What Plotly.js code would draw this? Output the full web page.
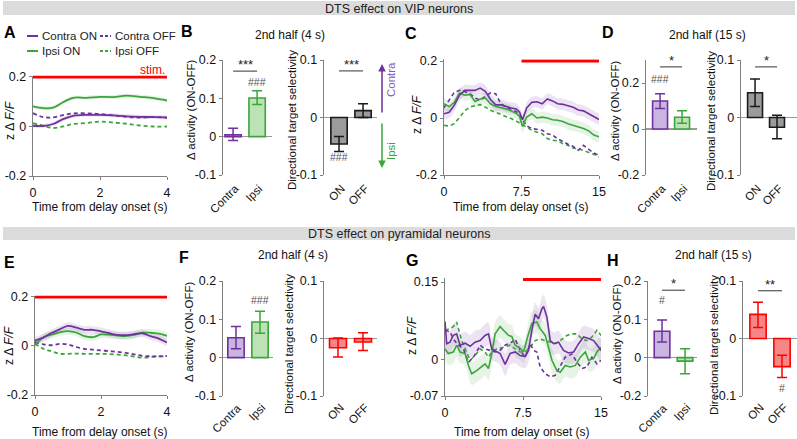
<!DOCTYPE html>
<html><head><meta charset="utf-8">
<script src="https://cdn.plot.ly/plotly-3.0.1.min.js"></script>
<style>body{margin:0;background:#fff}#chart{width:797px;height:439px}</style>
</head><body><div id="chart"></div>
<script>
// ===== DATA =====
// Panel A (VIP, 4 s delay)
const tA = [0,0.3,0.6,0.9,1.2,1.6,2.0,2.4,2.8,3.2,3.6,4.0];
const A_contraOn  = [0.003,0.002,0.01,0.03,0.043,0.047,0.047,0.045,0.041,0.039,0.038,0.037];
const A_contraOff = [0.054,0.038,0.037,0.046,0.053,0.053,0.05,0.045,0.039,0.036,0.038,0.035];
const A_ipsiOn    = [0.081,0.074,0.076,0.098,0.116,0.116,0.12,0.119,0.125,0.12,0.115,0.105];
const A_ipsiOff   = [0.014,0.004,-0.006,0.0,0.01,0.014,0.02,0.016,0.011,0.004,0.0,0.0];
const A_sem = 0.008;

// Panel C (VIP, 15 s delay)
const tC = [0,0.5,1,1.5,2,2.5,3,3.5,4,4.5,5,5.5,6,6.5,7,7.3,7.6,8,8.5,9,9.5,10,10.5,11,11.5,12,12.5,13,13.5,14,14.5,15];
const C_contraOn  = [0.015,0.02,0.045,0.08,0.097,0.096,0.097,0.105,0.094,0.065,0.046,0.046,0.04,0.035,0.032,0.021,-0.006,0.035,0.055,0.057,0.05,0.067,0.06,0.05,0.048,0.042,0.038,0.028,0.025,0.015,0.005,-0.005];
const C_contraOff = [0.036,0.062,0.09,0.097,0.093,0.085,0.07,0.064,0.075,0.088,0.085,0.05,0.039,0.03,0.022,0.012,-0.005,-0.028,-0.037,-0.04,-0.043,-0.055,-0.06,-0.073,-0.083,-0.092,-0.1,-0.113,-0.096,-0.11,-0.123,-0.131];
const C_ipsiOn    = [0.05,0.04,0.055,0.088,0.08,0.083,0.058,0.066,0.07,0.05,0.04,0.036,0.032,0.025,0.016,0.006,-0.03,0.003,0.015,0.0,0.003,0.0,-0.006,-0.008,-0.012,-0.02,-0.026,-0.03,-0.037,-0.045,-0.06,-0.066];
const C_ipsiOff   = [-0.026,-0.028,-0.02,0.004,0.025,0.039,0.044,0.047,0.038,0.027,0.02,0.013,0.004,-0.002,-0.011,-0.018,-0.025,-0.033,-0.043,-0.05,-0.055,-0.072,-0.078,-0.08,-0.09,-0.096,-0.106,-0.108,-0.115,-0.12,-0.127,-0.137];
const C_sem = 0.02;

// Panel E (pyramidal, 4 s delay)
const tE = [0,0.25,0.5,0.75,1,1.25,1.5,1.75,2,2.25,2.5,2.75,3,3.25,3.5,3.75,4];
const E_contraOn  = [0.023,0.034,0.053,0.068,0.082,0.075,0.066,0.066,0.06,0.052,0.045,0.044,0.048,0.052,0.04,0.03,0.014];
const E_contraOff = [0.016,0.007,0.003,0.009,0.006,-0.004,-0.012,-0.015,-0.018,-0.021,-0.024,-0.028,-0.034,-0.04,-0.042,-0.042,-0.042];
const E_ipsiOn    = [0.003,0.035,0.046,0.056,0.061,0.055,0.04,0.036,0.047,0.046,0.042,0.04,0.045,0.054,0.054,0.05,0.041];
const E_ipsiOff   = [0.01,-0.011,-0.022,-0.032,-0.032,-0.031,-0.032,-0.032,-0.032,-0.033,-0.035,-0.038,-0.043,-0.048,-0.045,-0.042,-0.04];
const E_sem = 0.015;

// Panel G (pyramidal, 15 s delay)
const G_tContraOn = [0,0.16,0.48,0.8,1.12,1.45,1.93,2.41,2.89,3.37,3.85,4.18,4.5,4.82,5.3,5.78,6.26,6.75,7.23,7.71,8.03,8.35,8.67,8.99,9.31,9.48,9.8,10.12,10.44,10.92,11.4,11.88,12.37,12.85,13.33,13.81,14.29,14.78,15];
const G_contraOn  = [0.074,0.031,0.034,0.047,0.05,0.028,0.032,0.026,0.034,0.037,0.047,0.05,0.021,0.018,0.012,-0.009,0.012,0.015,0.008,0.006,0.018,0.057,0.088,0.079,0.098,0.103,0.082,0.037,0.031,0.034,0.018,0.013,0.015,0.031,0.044,0.041,0.037,0.024,0.018];
const G_tIpsiOn = [0,0.32,0.8,1.12,1.45,1.93,2.25,2.57,3.05,3.53,3.85,4.18,4.5,4.82,5.3,5.62,6.1,6.42,6.75,7.23,7.55,8.03,8.35,8.83,9.15,9.64,9.96,10.28,10.76,11.08,11.56,12.05,12.53,13.01,13.49,13.81,14.29,14.61,15];
const G_ipsiOn    = [0.021,0.012,0.015,0.028,0.015,0.012,-0.011,-0.027,-0.021,-0.014,-0.008,-0.017,0.012,0.05,0.064,0.057,0.047,0.045,0.028,0.022,0.015,0.05,0.07,0.073,0.06,0.047,0.024,-0.001,-0.021,-0.024,-0.011,-0.014,-0.011,0.005,0.015,-0.001,0.002,0.015,0.024];
const G_tContraOff = [0,0.48,0.8,1.28,1.77,2.25,2.73,3.05,3.37,3.85,4.34,4.82,5.3,5.78,6.42,6.75,7.23,7.71,8.19,8.51,8.83,9.15,9.64,10.12,10.6,11.08,11.56,12.21,12.69,13.17,13.65,14.13,14.61,15];
const G_contraOff = [0.057,0.054,0.04,0.028,0.021,-0.005,0.005,0.015,0.028,0.021,0.018,0.015,0.018,0.028,0.034,0.04,0.018,0.005,0.031,0.018,0.015,-0.014,-0.027,-0.033,-0.03,-0.011,0.005,0.011,-0.005,-0.017,-0.014,0.005,-0.008,-0.001];
const G_tIpsiOff = [0,0.48,0.8,1.12,1.61,2.09,2.41,2.89,3.37,3.85,4.18,4.5,4.98,5.62,6.26,6.75,7.23,7.71,8.19,8.67,9.15,9.64,10.12,10.6,11.08,11.72,12.21,12.69,13.17,13.65,14.13,14.61,15];
const G_ipsiOff   = [0.057,0.06,0.064,0.073,0.037,0.015,-0.001,0.008,0.021,0.015,0.005,0.015,0.021,0.024,0.028,0.021,0.015,0.015,0.024,0.037,0.04,0.037,0.034,0.031,0.037,0.047,0.05,0.05,0.04,0.037,0.044,0.057,0.047];
const G_sem = 0.022;

// Stimulation bars
const stimShortT = [0,4];
const stimLongT = [7.5,15];
const stimLevel = 0.2;
const stimLevelG = 0.155;

// Bar panels
const sideCats = ['Contra','Ipsi'];
const dirCats = ['ON','OFF'];
const B_side = [0.005,0.101],  B_sidePlus = [0.017,0.019], B_sideMinus = [0.015,0.017];
const B_dir  = [-0.046,0.012], B_dirPlus  = [0.013,0.012], B_dirMinus  = [0.013,0.012];
const D_side = [0.122,0.051],  D_sidePlus = [0.031,0.028], D_sideMinus = [0.033,0.026];
const D_dir  = [0.043,-0.017], D_dirPlus  = [0.024,0.021], D_dirMinus  = [0.024,0.020];
const F_side = [0.052,0.093],  F_sidePlus = [0.029,0.028], F_sideMinus = [0.029,0.029];
const F_dir  = [-0.016,-0.006],F_dirPlus  = [0.017,0.016], F_dirMinus  = [0.016,0.015];
const H_side = [0.069,-0.009], H_sidePlus = [0.029,0.032], H_sideMinus = [0.028,0.033];
const H_dir  = [0.042,-0.049], H_dirPlus  = [0.021,0.020], H_dirMinus  = [0.023,0.019];

// ===== STYLE / LAYOUT =====
const W = 797, H = 439;
const PURPLE = '#7030a0', GREEN = '#3aa63a', RED = '#ff0000';
const PURPLE_BAND = 'rgba(112,48,160,0.13)', GREEN_BAND = 'rgba(58,166,58,0.13)';
const AX = '#7f7f7f';
const FONT = 'Liberation Sans, Arial, sans-serif';
const px = x => x / W;
const py = y => 1 - y / H;
const dX = (a,b) => [px(a), px(b)];
const dY = (top,bottom) => [py(bottom), py(top)];

const traces = [];
const layout = {
  width: W, height: H, margin: {l:0,r:0,t:0,b:0},
  paper_bgcolor: '#fff', plot_bgcolor: 'rgba(0,0,0,0)',
  font: {family: FONT, size: 12, color: '#111'},
  showlegend: false, barmode: 'overlay',
  shapes: [], annotations: []
};

function txt(x, y, s, opts) {
  layout.annotations.push(Object.assign({xref: 'paper', yref: 'paper', x: px(x), y: py(y), text: s, showarrow: false, xanchor: 'center', yanchor: 'middle'}, opts || {}));
}
function addBand(t, v, sem, color, n) {
  traces.push({x: t, y: v.map(a => a + sem), xaxis: 'x'+n, yaxis: 'y'+n, mode: 'lines', line: {width: 0, shape: 'spline'}, hoverinfo: 'skip'});
  traces.push({x: t, y: v.map(a => a - sem), xaxis: 'x'+n, yaxis: 'y'+n, mode: 'lines', line: {width: 0, shape: 'spline'}, fill: 'tonexty', fillcolor: color, hoverinfo: 'skip'});
}
function addLine(t, v, color, dash, n, w, shape) {
  traces.push({x: t, y: v, xaxis: 'x'+n, yaxis: 'y'+n, mode: 'lines', line: {color: color, width: w, dash: dash, shape: shape}});
}
function tsPanel(n, xd, yd, xr, yr, xt, yt, ytt, xTitlePos, yTitlePos) {
  layout['xaxis'+n] = {domain: xd, range: xr, anchor: 'y'+n, tickmode: 'array', tickvals: xt,
    showline: true, linecolor: AX, linewidth: 1.3, ticks: 'outside', ticklen: 3, tickcolor: AX,
    showgrid: false, zeroline: false, tickfont: {size: 12.5}, ticklabelstandoff: 2};
  layout['yaxis'+n] = {domain: yd, range: yr, anchor: 'x'+n, tickmode: 'array', tickvals: yt, ticktext: ytt,
    showline: true, linecolor: AX, linewidth: 1.3, ticks: 'outside', ticklen: 3, tickcolor: AX,
    showgrid: false, zeroline: false, tickfont: {size: 12.5}};
  txt(xTitlePos[0], xTitlePos[1], 'Time from delay onset (s)', {font: {size: 12}});
  txt(yTitlePos[0], yTitlePos[1], 'z Δ <i>F/F</i>', {font: {size: 12}, textangle: -90});
}
// bar panel: category labels drawn as rotated annotations at each category position
function barPanel(n, xd, yd, xr, yr, yt, ytt, ytitle, yTitlePos, labelTop, cats, vals, plus, minus, fills, edges) {
  layout['xaxis'+n] = {domain: xd, range: xr, anchor: 'y'+n, type: 'category', showline: false,
    ticks: '', showticklabels: false, showgrid: false, zeroline: false};
  layout['yaxis'+n] = {domain: yd, range: yr, anchor: 'x'+n, tickmode: 'array', tickvals: yt, ticktext: ytt,
    showline: true, linecolor: AX, linewidth: 1.3, ticks: 'outside', ticklen: 3, tickcolor: AX,
    showgrid: false, zeroline: true, zerolinecolor: '#9a9a9a', zerolinewidth: 1.5, tickfont: {size: 12.5}};
  txt(yTitlePos[0], yTitlePos[1], ytitle, {font: {size: 11.5}, textangle: -90});
  cats.forEach((c, i) => {
    traces.push({type: 'bar', x: [c], y: [vals[i]], xaxis: 'x'+n, yaxis: 'y'+n, width: 0.68,
      marker: {color: fills[i], line: {color: edges[i], width: 1.6}},
      error_y: {type: 'data', symmetric: false, array: [plus[i]], arrayminus: [minus[i]], color: edges[i], thickness: 1.5, width: 5}});
    layout.annotations.push({xref: 'x'+n, yref: 'paper', x: i, y: py(labelTop), xshift: 9, text: c, showarrow: false,
      textangle: -45, xanchor: 'right', yanchor: 'top', borderpad: 0, font: {size: 11.5, color: '#111'}});
  });
}
function sig(n, y, label) {
  layout.shapes.push({type: 'line', xref: 'x'+n, yref: 'y'+n, x0: 0, x1: 1, y0: y, y1: y, line: {color: '#333', width: 1}});
  layout.annotations.push({xref: 'x'+n, yref: 'y'+n, x: 0.5, y: y, text: label, showarrow: false, xanchor: 'center', yanchor: 'bottom', yshift: -3, font: {size: 13, color: '#222'}});
}
function hash(n, x, y, label) {
  layout.annotations.push({xref: 'x'+n, yref: 'y'+n, x: x, y: y, text: label, showarrow: false, xanchor: 'center', yanchor: 'middle', font: {size: 10.5, color: '#555'}});
}

// --- Panel A ---
tsPanel(1, dX(33,167), dY(75.5,176), [0,4], [-0.2,0.206], [0,2,4], [-0.2,0,0.2], ['-0.2','0','0.2'], [100,207], [10,121]);
addBand(tA, A_ipsiOn, A_sem, GREEN_BAND, 1);
addBand(tA, A_contraOn, A_sem, PURPLE_BAND, 1);
addLine(tA, A_ipsiOff, GREEN, '4px,3px', 1, 1.8, 'spline');
addLine(tA, A_contraOff, PURPLE, '4px,3px', 1, 1.8, 'spline');
addLine(tA, A_ipsiOn, GREEN, 'solid', 1, 1.8, 'spline');
addLine(tA, A_contraOn, PURPLE, 'solid', 1, 1.8, 'spline');
addLine(stimShortT, [stimLevel, stimLevel], RED, 'solid', 1, 3, 'linear');

// --- Panel B ---
barPanel(2, dX(223,272), dY(60,175), [-0.42,1.62], [-0.1,0.2], [-0.1,0,0.1,0.2], ['-0.1','0','0.1','0.2'], 'Δ activity (ON-OFF)', [191,110], 181,
  sideCats, B_side, B_sidePlus, B_sideMinus, ['#c9b5e0','#bde3b5'], [PURPLE, GREEN]);
barPanel(3, dX(324,377), dY(60,175), [-0.625,1.58], [-0.1,0.1], [-0.1,0,0.1], ['-0.1','0','0.1'], 'Directional target selectivity', [292,120], 181,
  dirCats, B_dir, B_dirPlus, B_dirMinus, ['#9b9b9b','#9b9b9b'], ['#1a1a1a','#1a1a1a']);
sig(2, 0.171, '***'); hash(2, 1, 0.143, '###');
sig(3, 0.081, '***'); hash(3, 0, -0.069, '###');

// --- Panel C ---
tsPanel(4, dX(444,599), dY(59.3,175), [0,15], [-0.2,0.206], [0,7.5,15], [-0.2,0,0.2], ['-0.2','0','0.2'], [521,207], [417,115]);
addBand(tC, C_ipsiOn, C_sem, GREEN_BAND, 4);
addBand(tC, C_contraOn, C_sem, PURPLE_BAND, 4);
addLine(tC, C_ipsiOff, GREEN, '4px,3px', 4, 1.6, 'linear');
addLine(tC, C_contraOff, PURPLE, '4px,3px', 4, 1.6, 'linear');
addLine(tC, C_ipsiOn, GREEN, 'solid', 4, 1.6, 'linear');
addLine(tC, C_contraOn, PURPLE, 'solid', 4, 1.6, 'linear');
addLine(stimLongT, [stimLevel, stimLevel], RED, 'solid', 4, 3, 'linear');

// --- Panel D ---
barPanel(5, dX(646,697), dY(60,175), [-0.64,1.68], [-0.2,0.3], [-0.2,0,0.2], ['-0.2','0','0.2'], 'Δ activity (ON-OFF)', [615,111], 181,
  sideCats, D_side, D_sidePlus, D_sideMinus, ['#c9b5e0','#bde3b5'], [PURPLE, GREEN]);
barPanel(6, dX(741,797), dY(60,175), [-0.64,1.91], [-0.1,0.1], [-0.1,0,0.1], ['-0.1','0','0.1'], 'Directional target selectivity', [711,121], 181,
  dirCats, D_dir, D_dirPlus, D_dirMinus, ['#9b9b9b','#9b9b9b'], ['#1a1a1a','#1a1a1a']);
sig(5, 0.27, '*'); hash(5, 0, 0.217, '###');
sig(6, 0.088, '*');

// --- Panel E ---
tsPanel(7, dX(35,167), dY(295.5,395), [0,4], [-0.2,0.206], [0,2,4], [-0.2,0,0.2], ['-0.2','0','0.2'], [100,432], [9,346]);
addBand(tE, E_ipsiOn, E_sem, GREEN_BAND, 7);
addBand(tE, E_contraOn, E_sem, PURPLE_BAND, 7);
addLine(tE, E_ipsiOff, GREEN, '4px,3px', 7, 1.8, 'spline');
addLine(tE, E_contraOff, PURPLE, '4px,3px', 7, 1.8, 'spline');
addLine(tE, E_ipsiOn, GREEN, 'solid', 7, 1.8, 'spline');
addLine(tE, E_contraOn, PURPLE, 'solid', 7, 1.8, 'spline');
addLine(stimShortT, [stimLevel, stimLevel], RED, 'solid', 7, 3, 'linear');

// --- Panel F ---
barPanel(8, dX(223,273), dY(281,396), [-0.54,1.54], [-0.1,0.2], [-0.1,0,0.1,0.2], ['-0.1','0','0.1','0.2'], 'Δ activity (ON-OFF)', [189,332], 400,
  sideCats, F_side, F_sidePlus, F_sideMinus, ['#c9b5e0','#bde3b5'], [PURPLE, GREEN]);
barPanel(9, dX(324,377), dY(281,396), [-0.56,1.56], [-0.1,0.1], [-0.1,0,0.1], ['-0.1','0','0.1'], 'Directional target selectivity', [289,344], 400,
  dirCats, F_dir, F_dirPlus, F_dirMinus, ['#f78787','#f78787'], [RED, RED]);
hash(8, 1, 0.15, '###');

// --- Panel G ---
tsPanel(10, dX(445,601), dY(277.9,396), [0,15], [-0.07,0.158], [0,7.5,15], [-0.07,0,0.15], ['-0.07','0','0.15'], [522,432], [412,336]);
addBand(G_tIpsiOn, G_ipsiOn, G_sem, GREEN_BAND, 10);
addBand(G_tContraOn, G_contraOn, G_sem, PURPLE_BAND, 10);
addLine(G_tIpsiOff, G_ipsiOff, GREEN, '4px,3px', 10, 1.6, 'linear');
addLine(G_tContraOff, G_contraOff, PURPLE, '4px,3px', 10, 1.6, 'linear');
addLine(G_tIpsiOn, G_ipsiOn, GREEN, 'solid', 10, 1.6, 'linear');
addLine(G_tContraOn, G_contraOn, PURPLE, 'solid', 10, 1.6, 'linear');
addLine(stimLongT, [stimLevelG, stimLevelG], RED, 'solid', 10, 3, 'linear');

// --- Panel H ---
barPanel(11, dX(648,697), dY(281,396), [-0.61,1.52], [-0.1,0.2], [-0.1,0,0.1,0.2], ['-0.2','0','0.1','0.2'], 'Δ activity (ON-OFF)', [617,334], 400,
  sideCats, H_side, H_sidePlus, H_sideMinus, ['#c9b5e0','#bde3b5'], [PURPLE, GREEN]);
barPanel(12, dX(743,797), dY(281,396), [-0.625,1.625], [-0.1,0.1], [-0.1,0,0.1], ['-0.1','0','0.1'], 'Directional target selectivity', [714,345], 400,
  dirCats, H_dir, H_dirPlus, H_dirMinus, ['#f78787','#f78787'], [RED, RED]);
sig(11, 0.176, '*'); hash(11, 0, 0.15, '#');
sig(12, 0.083, '**'); hash(12, 1, -0.086, '#');

// --- Banners ---
layout.shapes.push({type: 'rect', xref: 'paper', yref: 'paper', x0: px(3), x1: px(795), y0: py(15), y1: py(1), fillcolor: '#dcdcdc', line: {width: 0}, layer: 'below'});
layout.shapes.push({type: 'rect', xref: 'paper', yref: 'paper', x0: px(3), x1: px(795), y0: py(240), y1: py(227), fillcolor: '#dcdcdc', line: {width: 0}, layer: 'below'});
txt(399, 8.5, 'DTS effect on VIP neurons', {font: {size: 12.5, color: '#222'}});
txt(399, 233.5, 'DTS effect on pyramidal neurons', {font: {size: 12.5, color: '#222'}});

// --- Panel letters & subtitles ---
const bold = {font: {size: 16, color: '#000'}};
[['A',10,32],['B',187,31],['C',411,33],['D',608,32],['E',9,262],['F',184,257],['G',412,260],['H',613,260]].forEach(l => txt(l[1], l[2], '<b>'+l[0]+'</b>', bold));
txt(290, 35, '2nd half (4 s)', {font: {size: 12}});
txt(707, 35, '2nd half (15 s)', {font: {size: 12}});
txt(293, 255, '2nd half (4 s)', {font: {size: 12}});
txt(713, 255, '2nd half (15 s)', {font: {size: 12}});

// --- Legend (panel A) ---
const legItems = [['Contra ON',PURPLE,'solid',27,36],['Contra OFF',PURPLE,'dot',100,36],['Ipsi ON',GREEN,'solid',27,51],['Ipsi OFF',GREEN,'dot',100,51]];
legItems.forEach(it => {
  layout.shapes.push({type: 'line', xref: 'paper', yref: 'paper', x0: px(it[3]), x1: px(it[3]+11), y0: py(it[4]), y1: py(it[4]), line: {color: it[1], width: 2, dash: it[2] === 'dot' ? '3px,2px' : 'solid'}});
  txt(it[3]+13, it[4], it[0], {xanchor: 'left', font: {size: 11.5, color: '#222'}});
});
txt(167, 70, 'stim.', {xanchor: 'right', font: {size: 12, color: RED}});

// --- Direction arrows (panel C) ---
layout.annotations.push({xref: 'paper', yref: 'paper', x: px(382), y: py(64), ax: 0, ay: 50, text: '', showarrow: true, arrowhead: 2, arrowsize: 1, arrowwidth: 1.5, arrowcolor: PURPLE});
layout.annotations.push({xref: 'paper', yref: 'paper', x: px(382), y: py(168), ax: 0, ay: -46, text: '', showarrow: true, arrowhead: 2, arrowsize: 1, arrowwidth: 1.5, arrowcolor: GREEN});
txt(391, 80, 'Contra', {textangle: -90, font: {size: 11.5, color: '#8a5cc0'}});
txt(391, 151, 'Ipsi', {textangle: -90, font: {size: 11.5, color: GREEN}});

Plotly.newPlot('chart', traces, layout, {staticPlot: true, displayModeBar: false});
</script>
</body></html>
